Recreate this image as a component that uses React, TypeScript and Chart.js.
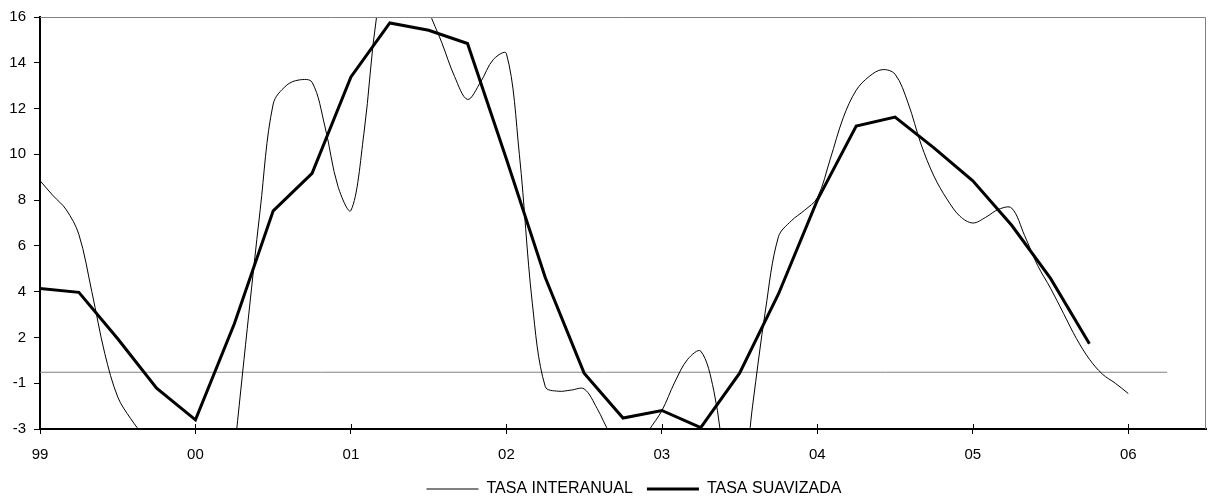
import React, { useEffect, useRef } from "react";
import { Chart, registerables } from "chart.js";

Chart.register(...registerables);

// Year tick labels (one every 12 months, starting Jan 1999)
const yearLabels = ["99", "00", "01", "02", "03", "04", "05", "06"];

// Y axis tick values and the text printed for each
const yTickValues = [-2, 0, 2, 4, 6, 8, 10, 12, 14, 16];
const yTickTexts = ["-3", "-1", "2", "4", "6", "8", "10", "12", "14", "16"];

// Monthly series (month 0 = 99 ... month 84 = 06)
const tasaInteranual = [
  8.85, 8.2, 7.6, 6.5, 4.0, 1.3, -0.6, -1.55, -2.3, -3.0, -3.8, -4.8,
  -6.0, -7.5, -8.3, -3.0, 2.4, 7.6, 12.2, 13.0, 13.25, 13.15, 11.2, 8.6,
  7.55, 10.9, 16.1, 18.5, 19.2, 18.3, 16.3, 14.9, 13.4, 12.4, 13.15, 14.15,
  14.4, 10.0, 3.5, -0.15, -0.35, -0.3, -0.25, -1.1, -2.2, -2.9, -2.9, -2.05,
  -1.2, 0.05, 1.05, 1.4, -0.3, -3.8, -5.5, -1.0, 3.2, 6.4, 7.1, 7.55,
  8.1, 9.8, 11.6, 12.8, 13.4, 13.7, 13.5, 12.25, 10.45, 9.05, 8.05, 7.3,
  7.0, 7.25, 7.6, 7.65, 6.45, 5.15, 4.15, 3.05, 1.95, 1.05, 0.4, 0.0,
  -0.45,
];

// Quarterly smoothed series (every 3 months from month 0)
const tasaSuavizada = [
  4.14, 3.97, 1.94, -0.22, -1.6, 2.6, 7.53, 9.17, 13.38, 15.74, 15.42, 14.84,
  9.8, 4.62, 0.44, -1.52, -1.19, -1.94, 0.44, 3.9, 8.0, 11.24, 11.63, 10.28,
  8.84, 6.9, 4.58, 1.72,
];
const monthsPerQuarter = 3;

// Horizontal reference line
const refLevel = 0.48;
const refMonths = [0, 87];

const axisMonths = { min: 0, max: 90, step: 12 };

const legendShift = 11;

const plotFrame = {
  id: "plotFrame",
  afterLayout(chart: any) {
    if (chart.legend) {
      chart.legend.left += legendShift;
      chart.legend.right += legendShift;
    }
  },
  afterDraw(chart: any) {
    const { ctx, chartArea } = chart;
    const { left, top, right, bottom } = chartArea;
    ctx.save();
    ctx.strokeStyle = "#808080";
    ctx.lineWidth = 1;
    ctx.beginPath();
    ctx.moveTo(left, Math.round(top) + 0.5);
    ctx.lineTo(Math.round(right) - 0.5, Math.round(top) + 0.5);
    ctx.lineTo(Math.round(right) - 0.5, bottom);
    ctx.stroke();
    // inner part of the x tick marks
    const xs = chart.scales.x;
    ctx.strokeStyle = "#000";
    ctx.beginPath();
    xs.ticks.forEach((t: any) => {
      const px = Math.round(xs.getPixelForValue(t.value)) + 0.5;
      ctx.moveTo(px, bottom - 5);
      ctx.lineTo(px, bottom);
    });
    ctx.stroke();
    ctx.restore();
  },
};

export default function App() {
  const canvasRef = useRef<HTMLCanvasElement | null>(null);

  useEffect(() => {
    if (!canvasRef.current) return;
    Chart.defaults.font.family = "'Liberation Sans', Arial, sans-serif";
    Chart.defaults.color = "#000";

    const chart = new Chart(canvasRef.current, {
      type: "line",
      data: {
        datasets: [
          {
            label: "TASA INTERANUAL",
            data: tasaInteranual.map((v, i) => ({ x: i, y: v })),
            borderColor: "#000",
            borderWidth: 1,
            pointRadius: 0,
            tension: 0.35,
            order: 2,
          },
          {
            label: "TASA SUAVIZADA",
            data: tasaSuavizada.map((v, i) => ({ x: i * monthsPerQuarter, y: v })),
            borderColor: "#000",
            borderWidth: 3,
            pointRadius: 0,
            tension: 0,
            order: 1,
          },
          {
            label: "ref",
            data: refMonths.map((m) => ({ x: m, y: refLevel })),
            borderColor: "#808080",
            borderWidth: 1,
            pointRadius: 0,
            tension: 0,
            order: 3,
          },
        ],
      },
      options: {
        animation: false,
        responsive: true,
        maintainAspectRatio: false,
        elements: { line: { capBezierPoints: false } },
        layout: { padding: { top: 16, right: 2, left: 0, bottom: 0 } },
        plugins: {
          tooltip: { enabled: false },
          legend: {
            position: "bottom",
            fullSize: false,
            maxHeight: 30,
            labels: {
              usePointStyle: true,
              pointStyle: "line",
              pointStyleWidth: 52,
              padding: 14,
              color: "#000",
              font: { size: 16 },
              filter: (item: any) => item.text !== "ref",
              sort: (a: any, b: any) => a.datasetIndex - b.datasetIndex,
            },
          },
        },
        scales: {
          x: {
            type: "linear",
            min: axisMonths.min,
            max: axisMonths.max,
            afterFit: (s: any) => {
              s.height = 38;
            },
            ticks: {
              stepSize: axisMonths.step,
              includeBounds: false,
              autoSkip: false,
              maxRotation: 0,
              padding: 12,
              font: { size: 15 },
              color: "#000",
              callback: (v: any) => {
                const idx = Math.round(Number(v) / axisMonths.step);
                return yearLabels[idx] ?? "";
              },
            },
            grid: {
              drawOnChartArea: false,
              drawTicks: true,
              tickLength: 5,
              color: "#000",
              lineWidth: 1,
            },
            border: { color: "#000", width: 2 },
          },
          y: {
            type: "linear",
            min: -2,
            max: 16,
            afterFit: (s: any) => {
              s.width = 40;
            },
            ticks: {
              stepSize: 2,
              padding: 8,
              font: { size: 15 },
              color: "#000",
              callback: (v: any) => {
                const idx = yTickValues.indexOf(Number(v));
                return idx >= 0 ? yTickTexts[idx] : "";
              },
            },
            grid: {
              drawOnChartArea: false,
              drawTicks: true,
              tickLength: 6,
              color: "#000",
              lineWidth: 1,
            },
            border: { color: "#000", width: 2 },
          },
        },
      },
      plugins: [plotFrame],
    });
    return () => chart.destroy();
  }, []);

  return (
    <div style={{ position: "absolute", left: 0, top: 0, width: 1208, height: 497, background: "#fff" }}>
      <canvas ref={canvasRef} />
    </div>
  );
}
